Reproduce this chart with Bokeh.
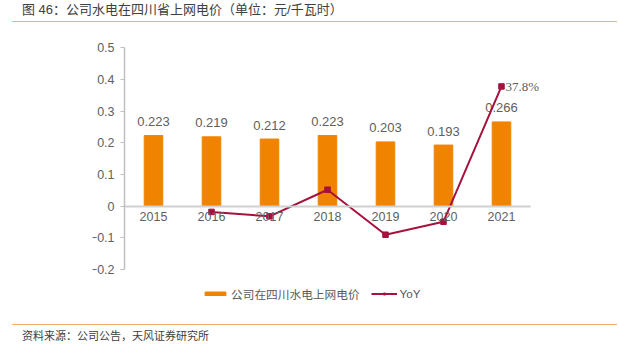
from bokeh.plotting import figure
from bokeh.models import (ColumnDataSource, FactorRange, Range1d, FixedTicker, CustomJSTickFormatter,
                          Legend, LegendItem, LabelSet, Div)
from bokeh.layouts import column
from bokeh.core.properties import value
from bokeh.embed import file_html
from bokeh.resources import INLINE

years = ["2015", "2016", "2017", "2018", "2019", "2020", "2021"]
price = [0.223, 0.219, 0.212, 0.223, 0.203, 0.193, 0.266]
price_labels = ["0.223", "0.219", "0.212", "0.223", "0.203", "0.193", "0.266"]
yoy_years = ["2016", "2017", "2018", "2019", "2020", "2021"]
yoy = [-0.018, -0.032, 0.052, -0.090, -0.049, 0.378]
yoy_last_label = ["37.8%"]
y_ticks = [-0.2, -0.1, 0, 0.1, 0.2, 0.3, 0.4, 0.5]

BAR = "#F08300"
LINE = "#A6113D"
GRAY = "#606060"
RULE = "#F6AE6A"
FONT = "'Liberation Sans', Arial, 'Noto Sans CJK SC', sans-serif"
CJK = "'Liberation Sans', 'Noto Sans CJK SC', sans-serif"

bars = ColumnDataSource(dict(x=years, top=price, label=price_labels))
line = ColumnDataSource(dict(x=yoy_years, y=yoy))
last = ColumnDataSource(dict(x=yoy_years[-1:], y=yoy[-1:], label=yoy_last_label))

# frame is larger than the drawn axes so that tick labels, outside labels and legend are not clipped
p = figure(x_range=FactorRange(factors=years, range_padding=0.552, range_padding_units="absolute"),
           y_range=Range1d(-0.3103, 0.5294),
           frame_width=470, frame_height=266, output_backend="svg", toolbar_location=None,
           min_border_left=92, min_border_right=57, min_border_top=16, min_border_bottom=20)
p.outline_line_color = None
p.grid.grid_line_color = None
p.background_fill_color = "white"

vb = p.vbar(x="x", top="top", width=0.32, source=bars, color=BAR)
p.text(x="x", y="top", text="label", source=bars, text_align="center", text_baseline="middle",
       y_offset=-14, text_font=value(FONT), text_font_size="13px", text_color=GRAY)
ln = p.line(x="x", y="y", source=line, color=LINE, line_width=2)
sc = p.scatter(x="x", y="y", source=line, marker="square", size=5.5, color=LINE)

p.add_layout(LabelSet(x="x", y="y", text="label", source=last, x_offset=4, y_offset=0,
                      text_align="left", text_baseline="middle", text_font=FONT,
                      text_font_size="13px", text_color=GRAY))

xa = p.xaxis[0]
xa.fixed_location = 0
xa.bounds = (0, len(years))
xa.axis_line_color = "#D0D0D0"
xa.axis_line_width = 2
xa.major_tick_line_color = None
xa.major_tick_out = 0
xa.major_tick_in = 0
xa.minor_tick_line_color = None
xa.major_label_standoff = 6
xa.major_label_text_font = FONT
xa.major_label_text_font_size = "12.5px"
xa.major_label_text_color = GRAY

ya = p.yaxis[0]
ya.fixed_location = 0
ya.bounds = (y_ticks[0], y_ticks[-1])
ya.ticker = FixedTicker(ticks=y_ticks)
ya.formatter = CustomJSTickFormatter(code="""
  if (Math.abs(tick) < 1e-9) return "0";
  return tick.toFixed(1).replace("-", "\u2212");
""")
ya.axis_line_color = "#BFBFBF"
ya.axis_line_width = 1.5
ya.major_tick_line_color = "#BFBFBF"
ya.major_tick_out = 4
ya.major_tick_in = 0
ya.minor_tick_line_color = None
ya.major_label_standoff = 6
ya.major_label_text_font = FONT
ya.major_label_text_font_size = "12.5px"
ya.major_label_text_color = GRAY

legend = Legend(items=[LegendItem(label="公司在四川水电上网电价", renderers=[vb]),
                       LegendItem(label="YoY", renderers=[ln, sc])],
                orientation="horizontal", location=(110, 2),
                glyph_width=26, glyph_height=5, label_height=16, label_standoff=3, spacing=11,
                padding=0, margin=0, border_line_color=None, background_fill_alpha=0,
                label_text_font=CJK, label_text_font_size="11.7px", label_text_color="#595959")
p.add_layout(legend)

title = Div(text="图 46：公司水电在四川省上网电价（单位：元/千瓦时）", width=605, height=22,
            margin=(0, 0, 0, 12),
            styles={"font-family": CJK, "font-size": "13px", "color": "#404040",
                    "line-height": "20px", "padding-left": "10px", "box-sizing": "border-box",
                    "border-bottom": f"1.5px solid {RULE}", "white-space": "nowrap"})
source_div = Div(text="资料来源：公司公告，天风证券研究所", width=605, height=23,
                 margin=(0, 0, 0, 12),
                 styles={"font-family": CJK, "font-size": "11px", "color": "#404040",
                         "line-height": "20px", "padding-left": "10px", "padding-top": "1px",
                         "box-sizing": "border-box", "border-top": f"1.5px solid {RULE}",
                         "white-space": "nowrap"})

layout = column(title, p, source_div, spacing=0)
open("out.html", "w").write(file_html(layout, INLINE))
